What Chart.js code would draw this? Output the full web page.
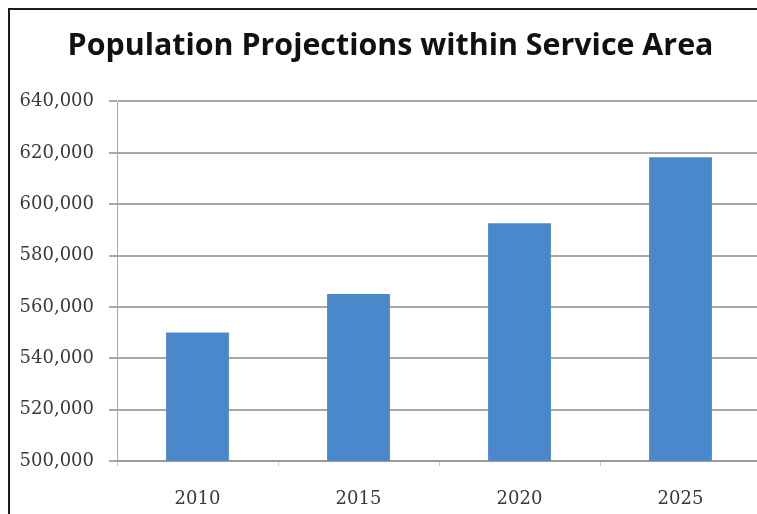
<!DOCTYPE html>
<html>
<head>
<meta charset="utf-8">
<script src="https://cdn.jsdelivr.net/npm/chart.js@4"></script>
<style>
  html, body { margin: 0; padding: 0; background: #fff; overflow: hidden; }
  #frame {
    position: absolute; left: 8px; top: 8px;
    width: 747px; height: 504px;
    border-top: 2px solid #1c1c1c; border-left: 2px solid #1c1c1c;
    overflow: hidden;
  }
  canvas { display: block; }
</style>
</head>
<body>
<div id="frame"><canvas id="popChart" width="782" height="504"></canvas></div>
<script>
var years = ['2010', '2015', '2020', '2025'];
var population = [550000, 565000, 592600, 618300];
var yMin = 500000;
var yMax = 640000;
var yStep = 20000;

var ctx = document.getElementById('popChart');

var popChart = new Chart(ctx, {
    type: 'bar',
    data: {
        labels: years,
        datasets: [{
            data: population,
            backgroundColor: '#4a87cb',
            borderWidth: 0,
            categoryPercentage: 1,
            barPercentage: 0.39
        }]
    },
    options: {
        responsive: false,
        animation: false,
        devicePixelRatio: 1,
        layout: {
            // plot runs past the right edge of the frame
            padding: { left: 10, right: 31, top: 0, bottom: 0 }
        },
        plugins: {
            legend: { display: false },
            tooltip: { enabled: false },
            title: {
                display: true,
                text: 'Population Projections within Service Area',
                color: '#111',
                font: { family: 'Open Sans', weight: 'bold', size: 30.4 },
                padding: { top: 18, bottom: 37 }
            }
        },
        scales: {
            x: {
                afterFit: function (s) { s.height = 53; },
                grid: {
                    display: true,
                    drawOnChartArea: false,
                    offset: true,
                    tickLength: 5,
                    color: '#c8c8c8'
                },
                border: { display: true, color: '#9a9a9a', width: 2 },
                ticks: {
                    color: '#3a3a3a',
                    padding: 23,
                    font: { family: 'DejaVu Serif', size: 18 }
                }
            },
            y: {
                min: yMin,
                max: yMax,
                afterFit: function (s) { s.width = 97; },
                grid: {
                    color: '#a8a8a8',
                    lineWidth: 2,
                    tickLength: 8
                },
                border: { display: true, color: '#a8a8a8', width: 1 },
                ticks: {
                    stepSize: yStep,
                    color: '#3a3a3a',
                    padding: 15,
                    font: { family: 'DejaVu Serif', size: 18 },
                    callback: function (v) { return v.toLocaleString('en-US'); }
                }
            }
        }
    }
});
</script>
</body>
</html>
